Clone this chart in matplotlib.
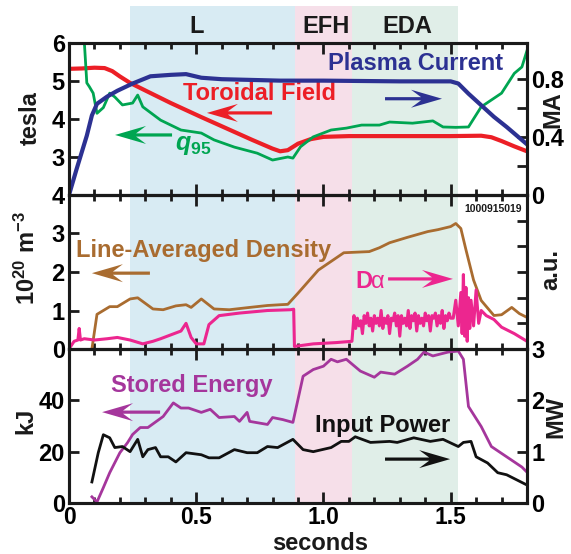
import numpy as np
import matplotlib
matplotlib.use("Agg")
import matplotlib.pyplot as plt
from matplotlib.patches import Rectangle, Polygon
from matplotlib.transforms import blended_transform_factory, Affine2D, ScaledTranslation
from matplotlib.ticker import MultipleLocator

plt.rcParams['font.family'] = ['Liberation Sans', 'DejaVu Sans']
plt.rcParams['font.weight'] = 'bold'
plt.rcParams['mathtext.fontset'] = 'custom'
plt.rcParams['mathtext.rm'] = 'Liberation Sans:bold'
plt.rcParams['mathtext.bf'] = 'Liberation Sans:bold'
plt.rcParams['mathtext.it'] = 'Liberation Sans:bold:italic'

# ---------------- data ----------------
# regions (seconds)
regions = ['L', 'EFH', 'EDA']
region_start = [0.24, 0.89, 1.114]
region_end = [0.89, 1.114, 1.53]
region_label_t = [0.50, 1.01, 1.33]
region_colors = ['#d8ebf3', '#f6dfe9', '#e0eee8']

# toroidal field (tesla)
tf_t = [0, 0.05, 0.10, 0.14, 0.17, 0.20, 0.24, 0.30, 0.40, 0.52, 0.62, 0.72, 0.80, 0.83,
        0.86, 0.90, 0.95, 1.00, 1.10, 1.30, 1.50, 1.62, 1.66, 1.70, 1.75, 1.80]
tf_v = [5.32, 5.33, 5.35, 5.34, 5.26, 5.12, 4.95, 4.75, 4.42, 4.05, 3.75, 3.45, 3.22, 3.15,
        3.18, 3.35, 3.47, 3.53, 3.55, 3.55, 3.55, 3.56, 3.52, 3.42, 3.28, 3.15]

# plasma current (MA)
ip_t = [0.0, 0.03, 0.07, 0.09, 0.11, 0.15, 0.19, 0.25, 0.32, 0.40, 0.46, 0.52, 0.60, 0.83,
        1.0, 1.3, 1.5, 1.53, 1.57, 1.62, 1.67, 1.72, 1.80]
ip_v = [0.0, 0.18, 0.41, 0.55, 0.63, 0.68, 0.72, 0.77, 0.82, 0.83, 0.835, 0.81, 0.80, 0.79,
        0.79, 0.785, 0.785, 0.77, 0.70, 0.62, 0.54, 0.47, 0.35]

# q95
q_t = [0.055, 0.07, 0.08, 0.095, 0.11, 0.135, 0.16, 0.18, 0.21, 0.25, 0.27, 0.29, 0.36, 0.44,
       0.52, 0.57, 0.65, 0.74, 0.80, 0.86, 0.88, 0.91, 0.96, 1.03, 1.09, 1.15, 1.22, 1.26,
       1.35, 1.43, 1.47, 1.52, 1.57, 1.62, 1.70, 1.75, 1.78, 1.80]
q_v = [6.6, 4.95, 4.85, 4.68, 4.15, 4.3, 4.68, 4.58, 4.37, 4.42, 4.63, 4.32, 3.97, 3.71,
       3.63, 3.45, 3.26, 3.10, 2.92, 3.0, 2.97, 3.27, 3.53, 3.71, 3.76, 3.84, 3.84, 3.92,
       3.89, 3.95, 3.79, 3.78, 3.79, 4.32, 4.68, 5.2, 5.37, 5.8]

# line-averaged density (1e20 m^-3)
ne_t = [0.09, 0.11, 0.16, 0.19, 0.24, 0.27, 0.33, 0.37, 0.42, 0.46, 0.48, 0.52, 0.57, 0.63,
        0.71, 0.78, 0.83, 0.86, 0.90, 0.98, 1.08, 1.18, 1.22, 1.26, 1.33, 1.41, 1.45, 1.50,
        1.52, 1.54, 1.56, 1.59, 1.62, 1.67, 1.70, 1.74, 1.77, 1.80]
ne_v = [0.0, 0.9, 1.1, 1.1, 1.3, 1.33, 1.04, 1.02, 1.12, 1.15, 1.08, 1.3, 1.04, 1.02,
        1.08, 1.13, 1.15, 1.16, 1.45, 2.05, 2.5, 2.53, 2.63, 2.76, 2.9, 3.05, 3.1, 3.18,
        3.26, 3.13, 2.58, 1.79, 1.26, 0.87, 0.89, 1.08, 0.92, 0.82]

# D-alpha (a.u.)
da_t_a = [0.0, 0.02, 0.035, 0.04, 0.045, 0.06, 0.10, 0.15, 0.19, 0.24, 0.29, 0.33, 0.36,
          0.40, 0.44, 0.46, 0.48, 0.50, 0.53, 0.55, 0.59, 0.67, 0.78, 0.87, 0.883,
          0.886, 0.96, 1.05, 1.112]
da_v_a = [0.0, 0.3, 0.35, 0.8, 0.35, 0.4, 0.35, 0.4, 0.45, 0.35, 0.2, 0.3, 0.4,
          0.55, 0.7, 1.0, 0.45, 0.2, 0.2, 0.95, 1.3, 1.4, 1.5, 1.53, 1.55,
          0.1, 0.2, 0.25, 0.3]
da_eda_v = [1.3, 0.8, 1.2, 0.9, 1.1, 0.6, 1.3, 1.0, 1.4, 0.9, 1.2, 0.7, 1.3, 1.0, 1.2, 0.9,
            1.5, 0.8, 1.2, 1.0, 1.3, 0.6, 1.2, 1.1, 1.4, 0.9, 1.3, 0.5, 1.3, 1.0, 1.2, 0.9,
            1.5, 0.8, 1.3, 1.1, 1.4, 0.7, 1.3, 1.0, 1.2, 0.9, 1.4, 1.1, 1.3, 0.7, 1.3, 1.2,
            1.4, 0.9, 1.3, 1.0, 1.5, 0.8, 1.3, 1.1, 1.4, 1.2]
da_t_c = [1.51, 1.52, 1.53, 1.54, 1.545, 1.55, 1.555, 1.56, 1.565, 1.57, 1.575, 1.58, 1.59,
          1.60, 1.61, 1.62, 1.64, 1.67, 1.70, 1.75, 1.80]
da_v_c = [1.2, 1.9, 0.9, 2.2, 0.6, 2.9, 0.5, 2.4, 0.3, 2.0, 0.8, 1.9, 0.9,
          2.3, 1.0, 1.5, 1.3, 1.15, 0.85, 0.6, 0.3]

# stored energy (kJ)
we_t = [0.09, 0.11, 0.135, 0.16, 0.20, 0.23, 0.25, 0.28, 0.31, 0.37, 0.41, 0.44, 0.47, 0.52,
        0.555, 0.59, 0.65, 0.67, 0.70, 0.71, 0.78, 0.80, 0.84, 0.88, 0.92, 0.96, 1.00, 1.03,
        1.055, 1.09, 1.145, 1.20, 1.225, 1.28, 1.33, 1.37, 1.395, 1.43, 1.49, 1.53, 1.55,
        1.57, 1.62, 1.66, 1.72, 1.78, 1.80]
we_v = [2.4, 0.4, 6, 11.8, 19.6, 23.5, 26.7, 29.4, 29.4, 33.7, 39, 37, 37, 35.3,
        36.5, 33.3, 33.7, 31.8, 35.3, 31.8, 30.6, 33.3, 32.5, 31.4, 49.4, 52, 53.3, 56,
        55, 56, 51.4, 49, 51, 50.2, 53.3, 56, 58.8, 57.3, 58.8, 59.2, 56,
        37.6, 29.8, 22, 18, 14, 12]

# input power (MW)
pin_t = [0.09, 0.115, 0.135, 0.16, 0.18, 0.21, 0.24, 0.27, 0.29, 0.31, 0.34, 0.36, 0.39, 0.42,
         0.46, 0.52, 0.55, 0.59, 0.65, 0.70, 0.74, 0.78, 0.82, 0.88, 0.92, 0.96, 1.03, 1.07,
         1.10, 1.125, 1.185, 1.26, 1.29, 1.355, 1.42, 1.47, 1.53, 1.55, 1.58, 1.60, 1.645,
         1.685, 1.72, 1.76, 1.80]
pin_v = [0.41, 0.98, 1.33, 1.27, 1.08, 1.1, 1.0, 1.24, 0.9, 1.04, 1.08, 0.9, 0.9, 0.8,
         0.98, 0.94, 0.88, 0.88, 1.04, 0.98, 0.98, 1.1, 1.08, 1.24, 1.04, 1.0, 1.08, 1.2,
         1.2, 1.29, 1.18, 1.2, 1.18, 1.27, 1.2, 1.24, 1.1, 1.18, 1.2, 0.9, 0.78,
         0.59, 0.55, 0.45, 0.35]

x_ticks = [0, 0.5, 1.0, 1.5]
x_ticklabels = ['0', '0.5', '1.0', '1.5']

# colours
C_NAVY = '#2c3192'
C_RED = '#ec1f26'
C_GREEN = '#00a551'
C_BROWN = '#a96c30'
C_MAG = '#ec268f'
C_PURP = '#a5369c'
C_BLACK = '#111111'

FS = 17
W, H = 571, 554

fig = plt.figure(figsize=(W / 100, H / 100), dpi=100)
left = 69 / W
width = (527 - 69) / W
ax1 = fig.add_axes([left, 1 - 195 / H, width, 152 / H])
ax2 = fig.add_axes([left, 1 - 349 / H, width, 154 / H])
ax3 = fig.add_axes([left, 1 - 503 / H, width, 154 / H])
ax1r = ax1.twinx()
ax2r = ax2.twinx()
ax3r = ax3.twinx()

for a in (ax1, ax2, ax3, ax1r, ax2r, ax3r):
    a.set_facecolor('none')
    a.set_xlim(0, 1.8)
    for s in a.spines.values():
        s.set_linewidth(2.2)
        s.set_color('#1a1a1a')

for a in (ax1, ax2, ax3):
    a.xaxis.set_major_locator(MultipleLocator(0.5))
    a.xaxis.set_minor_locator(MultipleLocator(0.1))
    a.tick_params(axis='x', which='both', direction='in', top=True, bottom=True,
                  width=2, color='#1a1a1a', labelsize=16.5, pad=2)
    a.tick_params(axis='x', which='major', length=8)
    a.tick_params(axis='x', which='minor', length=4)
    a.tick_params(axis='y', which='both', direction='in', length=7, width=2,
                  color='#1a1a1a', labelsize=FS, pad=3)
for a in (ax1r, ax2r, ax3r):
    a.tick_params(axis='y', which='both', direction='in', length=7, width=2,
                  color='#1a1a1a', labelsize=FS, pad=3)

ax1.tick_params(axis='x', labelbottom=False)
ax2.tick_params(axis='x', labelbottom=False)
ax3.set_xticks(x_ticks)
ax3.set_xticklabels(x_ticklabels)

# shaded regions spanning all panels and the label strip
trans = blended_transform_factory(ax3.transData, fig.transFigure)
for name, s, e, lt, c in zip(regions, region_start, region_end, region_label_t, region_colors):
    fig.add_artist(Rectangle((s, 1 - 503 / H), e - s, (503 - 6) / H, transform=trans,
                             facecolor=c, edgecolor='none', zorder=-1))
    fig.text(lt, 1 - 33 / H, name, transform=trans, ha='center', va='baseline',
             fontsize=FS, fontweight='bold', color='#1a1a1a')

# ---- top panel ----
ax1.set_ylim(2, 6)
ax1.set_yticks([3, 4, 5, 6])
ax1.plot(tf_t, tf_v, color=C_RED, lw=3.0)
ax1.plot(q_t, q_v, color=C_GREEN, lw=2.0)
ax1r.set_ylim(0, 1.05)
ax1r.set_yticks([0, 0.2, 0.4, 0.6, 0.8])
ax1r.set_yticklabels(['0', '', '0.4', '', '0.8'])
ax1r.plot(ip_t, ip_v, color=C_NAVY, lw=3.0)

# ---- middle panel ----
ax2.set_ylim(0, 4)
ax2.set_yticks([0, 1, 2, 3, 4])
ax2.plot(ne_t, ne_v, color=C_BROWN, lw=2.0, zorder=3)
ax2r.set_ylim(0, 6)
ax2r.set_yticks([0, 1, 2, 3, 4, 5, 6])
ax2r.set_yticklabels([])
da_eda_t = np.linspace(1.12, 1.50, len(da_eda_v))
da_t = list(da_t_a) + list(da_eda_t) + list(da_t_c)
da_v = list(da_v_a) + list(da_eda_v) + list(da_v_c)
ax2r.plot(da_t, da_v, color=C_MAG, lw=2.2)

# ---- bottom panel ----
ax3.set_ylim(0, 60)
ax3.set_yticks([0, 20, 40])
ax3.plot(we_t, we_v, color=C_PURP, lw=2.0)
ax3r.set_ylim(0, 3)
ax3r.set_yticks([0, 1, 2, 3])
ax3r.plot(pin_t, pin_v, color=C_BLACK, lw=2.0)


def arrow(ax, x0, x1, y, color):
    """Notched arrow from x0 to x1 (data) at height y; head sized in pixels."""
    p0 = ax.transData.transform((x0, y))
    p1 = ax.transData.transform((x1, y))
    L = abs(p1[0] - p0[0])
    d = 1 if x1 > x0 else -1
    hl, hw, notch, sw = 31, 9, 21, 3.2
    verts = [(0, 0), (-hl, hw), (-notch, sw / 2), (-L, sw / 2), (-L, -sw / 2),
             (-notch, -sw / 2), (-hl, -hw)]
    tr = Affine2D().scale(d, 1) + ScaledTranslation(x1, y, ax.transData)
    ax.add_artist(Polygon(verts, closed=True, transform=tr, facecolor=color,
                          edgecolor='none', clip_on=False, zorder=5))


# annotations top
ax1.text(1.364, 5.29, 'Plasma Current', color=C_NAVY, fontsize=FS, fontweight='bold',
         ha='center', va='baseline')
arrow(ax1r, 1.242, 1.466, 0.665, C_NAVY)
ax1.text(0.448, 4.5, 'Toroidal Field', color=C_RED, fontsize=FS, fontweight='bold',
         ha='left', va='baseline')
arrow(ax1, 0.798, 0.542, 4.16, C_RED)
ax1.text(0.417, 3.18, r'$q_{95}$', color=C_GREEN, fontsize=FS + 1, ha='left', va='baseline')
arrow(ax1, 0.405, 0.181, 3.58, C_GREEN)

# annotations middle
ax2.text(0.527, 2.39, 'Line-Averaged Density', color=C_BROWN, fontsize=FS,
         fontweight='bold', ha='center', va='baseline')
arrow(ax2, 0.318, 0.090, 1.97, C_BROWN)
ax2.text(1.124, 1.58, 'D', color=C_MAG, fontsize=FS, fontweight='bold',
         ha='left', va='baseline')
ax2.text(1.186, 1.58, 'α', color=C_MAG, fontsize=FS, fontweight='normal',
         ha='left', va='baseline')
arrow(ax2r, 1.254, 1.509, 2.73, C_MAG)
ax2.text(1.667, 3.56, '1000915019', color='#1a1a1a', fontsize=7.5, fontweight='bold',
         ha='center', va='baseline')

# annotations bottom
ax3.text(0.483, 43.2, 'Stored Energy', color=C_PURP, fontsize=FS, fontweight='bold',
         ha='center', va='baseline')
arrow(ax3, 0.358, 0.130, 35.4, C_PURP)
ax3.text(1.234, 27.7, 'Input Power', color=C_BLACK, fontsize=FS, fontweight='bold',
         ha='center', va='baseline')
arrow(ax3r, 1.242, 1.498, 0.855, C_BLACK)

# axis labels
def flabel(x, y, s, **kw):
    fig.text(x / W, 1 - y / H, s, rotation=90, ha='center', va='center',
             fontsize=FS, fontweight='bold', color='#1a1a1a', **kw)


flabel(30, 118, 'tesla')
flabel(27, 258, r'10$^{20}$ m$^{-3}$')
flabel(26, 421, 'kJ')
flabel(553, 110, 'MA')
flabel(551, 270, 'a.u.')
flabel(556, 417, 'MW')
fig.text(320 / W, 1 - 550 / H, 'seconds', ha='center', va='baseline', fontsize=FS,
         fontweight='bold', color='#1a1a1a')

fig.savefig('out.png', dpi=100)
